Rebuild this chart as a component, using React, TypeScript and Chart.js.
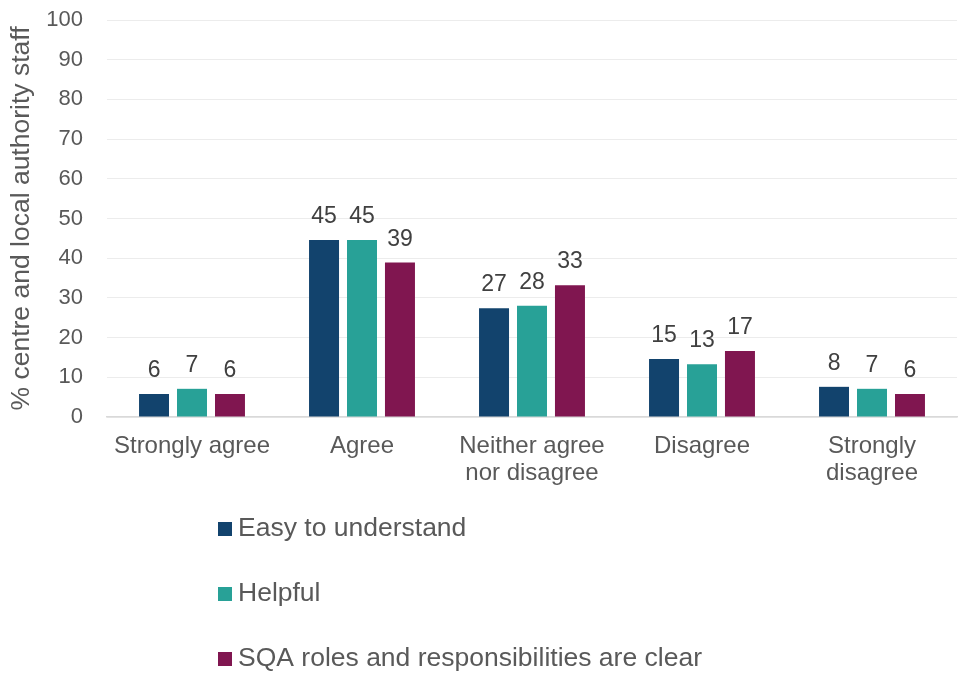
import React, { useEffect, useRef } from "react";
import { Chart, registerables } from "chart.js";

Chart.register(...registerables);

const categories: (string | string[])[] = [
  "Strongly agree",
  "Agree",
  ["Neither agree", "nor disagree"],
  "Disagree",
  ["Strongly", "disagree"],
];
const seriesNames = ["Easy to understand", "Helpful", "SQA roles and responsibilities are clear"];
const easyToUnderstand = [5.8, 44.6, 27.4, 14.6, 7.6];
const helpful = [7.1, 44.6, 28.0, 13.3, 7.1];
const sqaRolesClear = [5.8, 38.9, 33.2, 16.6, 5.8];
const seriesColors = ["#12436D", "#28A197", "#801650"];
const yTicks = [0, 10, 20, 30, 40, 50, 60, 70, 80, 90, 100];
const yTitle = "% centre and local authority staff";

const FONT = "'Liberation Sans', Arial, Helvetica, sans-serif";

const dataLabelPlugin = {
  id: "dataLabels",
  afterDatasetsDraw(chart: any) {
    const ctx = chart.ctx;
    ctx.save();
    ctx.font = `23px ${FONT}`;
    ctx.fillStyle = "#404040";
    ctx.textAlign = "center";
    ctx.textBaseline = "alphabetic";
    chart.data.datasets.forEach((ds: any, i: number) => {
      const meta = chart.getDatasetMeta(i);
      meta.data.forEach((el: any, j: number) => {
        const v = ds.data[j];
        ctx.fillText(String(Math.round(v)), el.x, el.y - 17);
      });
    });
    ctx.restore();
  },
};

const verticalLegendPlugin = {
  id: "verticalLegend",
  afterDraw(chart: any) {
    const ctx = chart.ctx;
    const area = chart.chartArea;
    ctx.save();
    ctx.font = `26.5px ${FONT}`;
    ctx.textAlign = "left";
    ctx.textBaseline = "middle";
    const x0 = 218;
    const y0 = area.bottom + 112;
    const gap = 65;
    chart.data.datasets.forEach((ds: any, i: number) => {
      const cy = y0 + i * gap;
      ctx.fillStyle = ds.backgroundColor;
      ctx.fillRect(x0, cy - 7, 14, 14);
      ctx.fillStyle = "#595959";
      ctx.fillText(ds.label, x0 + 20, cy);
    });
    ctx.restore();
  },
};

export default function App() {
  const canvasRef = useRef<HTMLCanvasElement | null>(null);

  useEffect(() => {
    if (!canvasRef.current) return;
    const seriesData = [easyToUnderstand, helpful, sqaRolesClear];
    const chart = new Chart(canvasRef.current, {
      type: "bar",
      data: {
        labels: categories,
        datasets: seriesNames.map((name, i) => ({
          label: name,
          data: seriesData[i],
          backgroundColor: seriesColors[i],
          borderWidth: 0,
          categoryPercentage: 0.67,
          barPercentage: 0.79,
        })),
      },
      options: {
        animation: false,
        responsive: true,
        maintainAspectRatio: false,
        layout: { padding: { top: 20, right: 4, bottom: 0, left: 0 } },
        plugins: {
          legend: { display: false },
          tooltip: { enabled: false },
        },
        scales: {
          x: {
            grid: { display: false, drawTicks: false },
            border: { display: true, color: "#d9d9d9", width: 1.5 },
            ticks: {
              color: "#595959",
              font: { family: FONT, size: 24, lineHeight: 1.12 },
              padding: 16,
              maxRotation: 0,
              autoSkip: false,
            },
            afterFit(scale: any) {
              scale.height = 256;
              scale.paddingLeft = 0;
              scale.paddingRight = 0;
            },
          },
          y: {
            min: 0,
            max: 100,
            afterBuildTicks(scale: any) {
              scale.ticks = yTicks.map((v) => ({ value: v }));
            },
            grid: { color: "#ececec", lineWidth: 1, drawTicks: false },
            border: { display: false },
            ticks: {
              color: "#595959",
              font: { family: FONT, size: 22 },
              padding: 24,
            },
            title: {
              display: true,
              text: yTitle,
              color: "#595959",
              font: { family: FONT, size: 26.5 },
              padding: { top: 6, bottom: 0 },
            },
            afterFit(scale: any) {
              scale.width = 107;
              scale.paddingTop = 0;
              scale.paddingBottom = 0;
            },
          },
        },
      },
      plugins: [dataLabelPlugin, verticalLegendPlugin],
    });
    return () => chart.destroy();
  }, []);

  return (
    <div style={{ position: "absolute", left: 0, top: 0, width: 961, height: 673, background: "#ffffff" }}>
      <canvas ref={canvasRef} />
    </div>
  );
}
